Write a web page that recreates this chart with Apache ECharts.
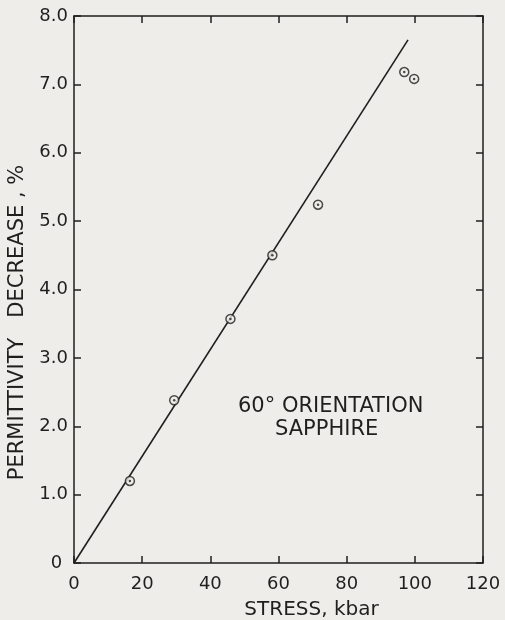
<!DOCTYPE html>
<html>
<head>
<meta charset="utf-8">
<script src="https://cdn.jsdelivr.net/npm/echarts@6/dist/echarts.min.js"></script>
<style>
  html, body { margin: 0; padding: 0; background: #eeede9; }
  #chart { width: 505px; height: 620px; }
</style>
</head>
<body>
<div id="chart"></div>
<script>
// Data
const stress = [16.4, 29.4, 45.9, 71.6, 58.2, 96.9, 99.8];
const permDecrease = [1.20, 2.38, 3.57, 5.24, 4.50, 7.18, 7.08];
const fitStress = [0, 98.0];
const fitDecrease = [0, 7.65];
const xTicks = [0, 20, 40, 60, 80, 100, 120];
const yTicks = [0, 1, 2, 3, 4, 5, 6, 7, 8];
const annotation = ['60° ORIENTATION', 'SAPPHIRE'];

const FONT = 'DejaVu Sans';
const INK = '#1f1f1f';
const BG = '#eeede9';

const points = stress.map((s, i) => [s, permDecrease[i]]);
const fitLine = fitStress.map((s, i) => [s, fitDecrease[i]]);

const chart = echarts.init(document.getElementById('chart'), null, { renderer: 'canvas' });

function axisParts() {
  return {
    axisLine: { show: true, onZero: false, lineStyle: { color: INK, width: 1.5 } },
    axisTick: { show: true, inside: true, length: 7, lineStyle: { color: INK, width: 1.5 } },
    splitLine: { show: false }
  };
}

chart.setOption({
  backgroundColor: BG,
  animation: false,
  grid: { left: 74, right: 22, top: 16, bottom: 57, containLabel: false, outerBoundsMode: 'none' },
  xAxis: [
    Object.assign({
      type: 'value', min: xTicks[0], max: xTicks[xTicks.length - 1], interval: 20, position: 'bottom',
      name: 'STRESS, kbar', nameLocation: 'middle', nameGap: 37,
      nameTextStyle: { fontFamily: FONT, fontSize: 20, color: INK, padding: [0, 0, 0, 66] },
      axisLabel: { fontFamily: FONT, fontSize: 18, color: INK, margin: 12,
        formatter: v => String(v) }
    }, axisParts()),
    Object.assign({
      type: 'value', min: xTicks[0], max: xTicks[xTicks.length - 1], interval: 20, position: 'top',
      axisLabel: { show: false }
    }, axisParts())
  ],
  yAxis: [
    Object.assign({
      type: 'value', min: yTicks[0], max: yTicks[yTicks.length - 1], interval: 1, position: 'left',
      name: 'PERMITTIVITY   DECREASE , %', nameLocation: 'middle', nameGap: 35, nameRotate: 90,
      nameTextStyle: { fontFamily: FONT, fontSize: 21, color: INK, padding: [0, 66, 0, 0] },
      axisLabel: { fontFamily: FONT, fontSize: 18, color: INK, margin: 6,
        formatter: v => (v === 0 ? '0 ' : v.toFixed(1)) }
    }, axisParts()),
    Object.assign({
      type: 'value', min: yTicks[0], max: yTicks[yTicks.length - 1], interval: 1, position: 'right',
      axisLabel: { show: false }
    }, axisParts())
  ],
  series: [
    {
      type: 'line', data: fitLine, xAxisIndex: 0, yAxisIndex: 0,
      symbol: 'none', lineStyle: { color: INK, width: 1.6 }, silent: true
    },
    {
      type: 'scatter', data: points, xAxisIndex: 0, yAxisIndex: 0,
      symbol: 'circle', symbolSize: 9,
      itemStyle: { color: BG, borderColor: INK, borderWidth: 1.5 }, z: 3
    },
    {
      type: 'scatter', data: points, xAxisIndex: 0, yAxisIndex: 0,
      symbol: 'circle', symbolSize: 2.5,
      itemStyle: { color: INK }, z: 4
    }
  ],
  graphic: [
    {
      type: 'text', left: 238, top: 396,
      style: { text: annotation[0], fontFamily: FONT, fontSize: 21, fill: INK }
    },
    {
      type: 'text', left: 275, top: 419,
      style: { text: annotation[1], fontFamily: FONT, fontSize: 21, fill: INK }
    }
  ]
});
</script>
</body>
</html>
